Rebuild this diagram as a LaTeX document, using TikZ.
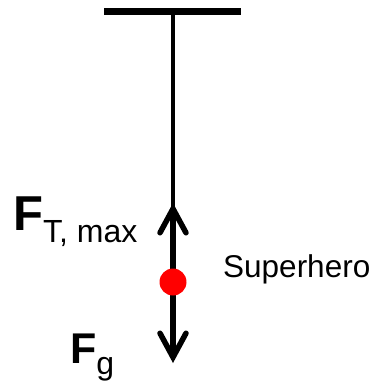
\documentclass[tikz,border=0pt]{standalone}
\usepackage{fontspec}
\setmainfont{Liberation Sans}
\usetikzlibrary{arrows.meta}

\tikzset{
    force/.style={line width=5.5pt, -{Straight Barb[length=24pt, width=26pt, line cap=round]}},
    herodot/.style={circle, fill=red, inner sep=0pt, minimum size=27pt},
    label/.style={anchor=base west, inner sep=0pt}
}

\begin{document}
\begin{tikzpicture}[x=1pt, y=-1pt]
    % Fix the picture area to the reference size
    \useasboundingbox (0, 0) rectangle (374, 384);

    % Ceiling and where the rope hangs from
    \coordinate (ceilL) at (104, 11.5);
    \coordinate (ceilR) at (241, 11.5);
    \coordinate (top) at (173, 11.5);
    \draw[line width=7pt] (ceilL) -- (ceilR);

    % Superhero position and the tips of the two forces
    \coordinate (hero) at (173, 282);
    \coordinate (ftip) at (173, 203);
    \coordinate (gtip) at (173, 363);

    % Rope
    \draw[line width=3.8pt] (top) -- (hero);

    % Tension (up) and weight (down)
    \draw[force] (hero) -- (ftip);
    \draw[force] (hero) -- (gtip);

    % The superhero as a red dot
    \node[herodot] (dot) at (hero) {};

    % Labels
    \node[label] (ftlabel) at (13, 230) {\fontsize{49}{50}\selectfont\textbf{F}\raisebox{-12pt}{\fontsize{32}{33}\selectfont T, max}};
    \node[label] (fglabel) at (70, 363) {\fontsize{43}{44}\selectfont\textbf{F}\raisebox{-11pt}{\fontsize{32}{33}\selectfont g}};
    \node[label] (herolabel) at (223, 277) {\fontsize{31.5}{32}\selectfont Superhero};
\end{tikzpicture}
\end{document}
